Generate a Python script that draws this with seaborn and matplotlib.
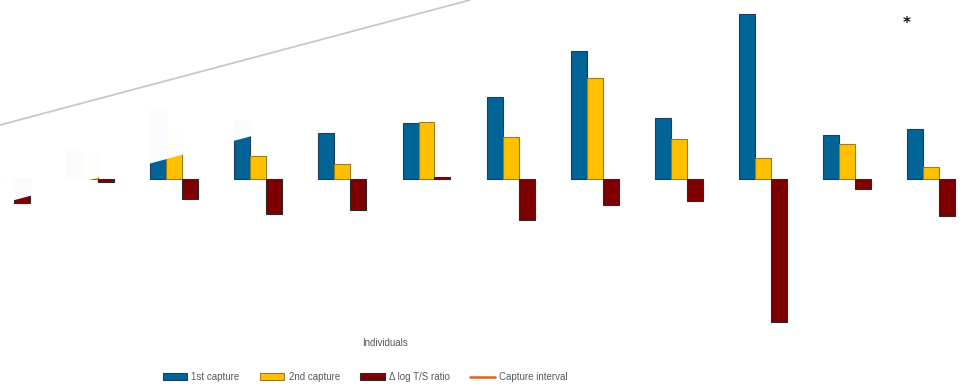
import matplotlib
matplotlib.use("Agg")
import matplotlib.pyplot as plt
from matplotlib.patches import Patch, Polygon
from matplotlib.lines import Line2D
import seaborn as sns
import pandas as pd

# Telomere measurements per individual
individuals = [f"Ind{i}" for i in range(1, 13)]
first_capture = [0.20, 0.28, 0.70, 0.58, 0.46, 0.56, 0.82, 1.28, 0.61, 1.65, 0.44, 0.50]
second_capture = [0.00, 0.26, 0.50, 0.23, 0.15, 0.57, 0.42, 1.01, 0.40, 0.21, 0.35, 0.12]
delta_log_ts = [-0.24, -0.03, -0.20, -0.35, -0.31, 0.02, -0.41, -0.26, -0.22, -1.43, -0.10, -0.37]

series_names = ["1st capture", "2nd capture", "\u0394 log T/S ratio"]
series_values = [first_capture, second_capture, delta_log_ts]
fill_colors = ["#006496", "#FFC000", "#7F0000"]
edge_colors = ["#1d3d63", "#9a7d1c", "#2a2a2a"]
interval_color = "#D9661F"

rows = []
for name, vals in zip(series_names, series_values):
    for ind, v in zip(individuals, vals):
        rows.append({"Individual": ind, "Series": name, "Value": v})
df = pd.DataFrame(rows)

sns.set_theme(style="white")
font_list = ["Liberation Sans Narrow", "Liberation Sans", "DejaVu Sans"]
plt.rcParams["font.family"] = font_list
text_color = "#595959"

fig = plt.figure(figsize=(9.73, 3.90), dpi=100)
ax = fig.add_axes([0, 0, 1, 1])

sns.barplot(data=df, x="Individual", y="Value", hue="Series",
            order=individuals, hue_order=series_names,
            palette=fill_colors, width=0.57, ax=ax, legend=False,
            saturation=1.0)

for cont, ec in zip(ax.containers, edge_colors):
    for bar in cont:
        bar.set_edgecolor(ec)
        bar.set_linewidth(0.8)

ax.set_xlim(-0.0713, 11.498)
ax.set_ylim(-2.115, 1.785)
ax.axis("off")

# significance marker
ax.text(10.71, 1.55, "*", ha="center", va="center", fontsize=11,
        fontweight="bold", color="#111111", family=["DejaVu Sans"])

fig.text(385 / 973, 1 - 343 / 390, "Individuals", ha="center", va="center",
         fontsize=7, color=text_color)

handles = [Patch(facecolor=c, edgecolor=e, linewidth=0.8)
           for c, e in zip(fill_colors, edge_colors)]
handles.append(Line2D([0], [0], color=interval_color, lw=1.8))
labels = series_names + ["Capture interval"]
fig.legend(handles, labels, loc="center", bbox_to_anchor=(365 / 973, 1 - 377 / 390),
           ncol=4, frameon=False, fontsize=7, handlelength=2.5,
           handleheight=0.6, handletextpad=0.45, columnspacing=2.1,
           labelcolor=text_color)

# light sheet covering the upper-left corner
sheet = Polygon([(0, 1 - 204 / 390), (755.6 / 973, 1.0), (0, 1.0)],
                closed=True, transform=fig.transFigure, facecolor="white",
                edgecolor="none", alpha=0.99, zorder=5)
fig.add_artist(sheet)
fig.add_artist(Line2D([0, 470 / 973], [1 - 125 / 390, 1.0],
                      transform=fig.transFigure, color="#c8c8c8",
                      lw=1.3, zorder=6))

fig.savefig("out.png", dpi=100)
